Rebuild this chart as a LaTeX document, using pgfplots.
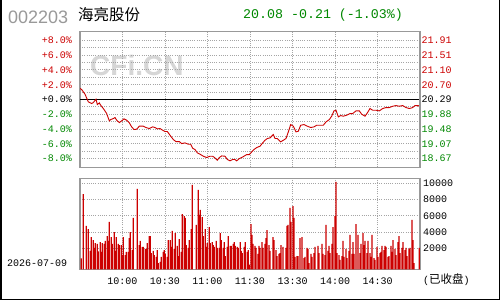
\documentclass[border=0pt]{standalone}
\usepackage{fontspec}
\setmainfont{Liberation Mono}
\newfontfamily\cjk{Noto Sans CJK SC}
\newfontfamily\arial{Liberation Sans}
\usepackage{pgfplots}
\usepackage{pgfplotstable}
\pgfplotsset{compat=1.18}
\definecolor{upred}{RGB}{204,0,0}
\definecolor{dngreen}{RGB}{0,136,0}
\definecolor{framec}{RGB}{153,153,153}
\definecolor{gridc}{RGB}{165,165,165}
\definecolor{wm}{RGB}{214,214,214}
\definecolor{titleg}{RGB}{153,153,153}

\pgfplotstableread{
t pct
0.00 1.50
1.18 1.35
3.53 0.72
5.88 -0.32
8.24 -0.55
9.41 -0.41
11.29 0.04
12.24 -0.68
13.65 -0.46
14.59 -0.77
16.47 -1.22
18.82 -1.90
20.71 -2.89
21.65 -2.71
23.53 -2.58
24.71 -2.44
25.88 -2.80
27.76 -3.12
29.41 -2.89
31.06 -2.62
32.94 -2.80
34.82 -3.16
36.47 -3.70
38.12 -4.06
40.00 -4.02
41.88 -3.61
44.71 -3.61
46.59 -3.79
48.94 -3.93
51.29 -3.70
52.94 -3.79
54.59 -3.97
56.47 -3.93
58.35 -4.15
60.00 -4.33
61.65 -4.33
63.53 -4.83
65.88 -5.42
67.76 -5.69
70.12 -5.69
71.76 -5.96
74.12 -5.87
76.47 -6.05
78.12 -6.05
79.53 -6.59
81.18 -6.77
82.82 -7.22
84.71 -7.40
87.06 -7.67
89.41 -7.85
91.76 -7.67
93.65 -7.67
95.29 -7.90
96.94 -8.21
98.35 -7.85
100.00 -7.63
102.35 -7.67
104.00 -8.12
105.88 -8.30
107.76 -8.12
109.41 -8.12
110.59 -8.30
112.47 -7.99
114.12 -7.85
115.76 -7.67
117.65 -7.45
119.53 -7.45
121.18 -7.09
122.82 -6.77
124.71 -6.50
127.06 -6.32
128.94 -5.87
130.59 -5.51
132.24 -5.28
134.12 -5.19
136.47 -4.74
137.65 -5.28
139.29 -5.28
141.65 -5.73
143.53 -5.51
145.41 -5.28
147.06 -4.38
148.71 -3.39
150.59 -3.61
152.47 -4.38
154.12 -4.29
155.76 -3.48
158.12 -3.39
160.47 -3.61
162.82 -3.79
165.18 -3.70
167.06 -3.48
171.76 -3.48
173.65 -3.03
176.00 -2.71
177.65 -2.26
179.29 -1.54
180.71 -1.45
182.35 -2.35
184.00 -2.17
185.88 -2.26
188.24 -2.12
190.59 -1.90
192.47 -1.90
194.82 -1.54
197.18 -1.54
198.82 -1.99
201.18 -2.26
202.82 -1.81
204.71 -1.22
206.59 -1.45
208.94 -1.45
211.29 -1.54
213.65 -1.22
216.00 -1.09
218.35 -1.09
220.71 -0.91
223.06 -0.82
225.41 -0.91
227.76 -0.82
230.12 -1.09
232.47 -1.22
234.82 -1.09
236.47 -0.82
238.82 -0.82
240.00 -1.03
}\pricetable

\pgfplotstableread{
t v
0.94 770
2.35 8680
4.47 4745
5.88 4375
7.29 1670
8.00 3390
9.41 3020
10.12 2040
10.82 2650
12.24 2530
12.94 1630
14.35 2775
15.06 1545
15.76 2650
17.18 2530
17.88 2900
19.29 3510
20.00 2900
20.71 5240
22.12 3390
22.82 2530
24.24 4000
24.94 1670
25.65 3390
27.06 2530
27.76 2400
29.18 2400
29.88 1175
30.59 3390
32.00 1175
32.71 1545
34.12 1545
34.82 3265
35.53 4000
36.94 1790
37.65 5730
40.47 9300
41.88 2400
42.59 2900
44.00 2160
44.71 2160
46.12 1915
46.82 1915
47.53 2650
48.94 3510
49.65 3510
50.35 1420
51.76 1670
52.47 1175
53.88 930
54.59 1790
55.29 190
56.71 315
57.41 930
58.82 1545
59.53 1790
60.24 1300
61.65 930
62.35 3020
63.76 3020
64.47 2160
65.18 4130
66.59 1915
67.29 3880
68.71 2285
69.41 1050
70.12 3140
71.53 1545
72.24 6220
73.65 5975
74.35 5730
75.06 2400
76.47 2040
77.18 3020
78.59 4375
79.29 9800
82.12 4870
83.53 9180
84.24 6100
84.94 6715
86.35 5850
87.06 3510
88.47 4375
89.18 2160
89.88 2650
91.29 4620
92.00 2650
93.41 2775
94.12 2400
94.82 2160
96.24 2900
96.94 2040
98.35 2040
99.06 3880
99.76 3020
101.18 2040
101.88 2775
102.59 1050
104.00 2160
104.71 3510
106.12 2285
106.82 2285
108.24 2530
108.94 2775
109.65 2285
111.06 2160
111.76 2040
113.18 2775
113.88 1670
114.59 1420
116.00 2160
116.71 2775
118.12 1545
118.82 1790
119.53 0
120.71 4990
121.41 3640
122.12 2530
123.53 2285
124.24 2040
125.65 1300
126.35 2285
127.06 2040
128.47 2775
129.18 2040
130.59 2530
131.29 3265
132.00 4250
133.41 2400
134.12 1670
136.24 3390
136.94 3020
138.35 1790
139.06 1050
140.47 1300
141.18 1420
141.88 2400
143.29 2160
145.41 2040
146.12 4745
146.82 4870
148.24 6960
148.94 5240
150.35 7200
151.06 5730
151.76 930
153.18 1050
153.88 1050
155.29 3265
156.71 3390
158.12 800
158.82 930
160.24 2040
160.94 1915
161.65 190
163.06 1300
163.76 930
165.18 1420
165.88 2160
168.00 2285
168.71 1420
170.82 2530
171.53 1300
172.94 1175
173.65 4870
175.06 1670
175.76 2285
176.47 1420
177.88 2530
178.59 4620
180.00 5975
180.71 10160
181.41 1420
182.82 1175
183.53 560
184.94 1050
185.65 2900
186.35 930
187.76 1915
188.47 800
189.88 1670
190.59 3640
192.00 1300
192.71 2775
193.41 1300
194.82 4990
196.24 3640
197.65 1420
198.35 2530
199.76 3880
200.47 2400
201.18 2900
202.59 1420
203.29 2900
204.71 1420
205.41 930
206.12 3640
207.53 800
208.24 560
209.65 2160
210.35 930
211.76 1420
212.47 1545
213.18 2285
214.59 1790
215.29 2285
216.00 2160
217.41 930
218.12 1050
219.53 2285
220.24 1545
220.94 3020
222.35 1915
223.06 1175
224.47 2775
225.18 3510
225.88 1420
227.29 2040
228.00 2775
229.41 1790
230.12 2040
230.82 1050
232.24 1915
232.94 2040
234.35 5485
235.06 3020
235.76 190
239.53 2040
}\voltable

\begin{document}
\begin{tikzpicture}
\path[use as bounding box] (0pt,0pt) rectangle (500pt,300pt);
\fill[white] (0pt,0pt) rectangle (500pt,300pt);
\draw[black, line width=1.5pt] (0.75pt,300pt) -- (0.75pt,0.75pt) -- (499.25pt,0.75pt) -- (499.25pt,300pt);

% titles
\node[anchor=base west, inner sep=0pt, text=titleg, font=\arial\fontsize{18}{18}\selectfont] at (8pt,276.7pt) {002203};
\node[anchor=base west, inner sep=0pt, text=black, font=\cjk\fontsize{15.5}{16}\selectfont] at (78pt,279.5pt) {海亮股份};
\node[anchor=base west, inner sep=0pt, text=dngreen, font=\fontsize{13.3}{14}\selectfont] at (243pt,281pt) {20.08 -0.21 (-1.03\%)};

% watermark
\node[anchor=base west, inner sep=0pt, text=wm, font=\arial\bfseries\fontsize{28}{28}\selectfont] at (90pt,224pt) {CFi.CN};

% date and status
\node[anchor=base west, inner sep=0pt, font=\fontsize{10}{12}\selectfont] at (7pt,34pt) {2026-07-09};
\node[anchor=base west, inner sep=0pt, font=\fontsize{10}{12}\selectfont] at (423pt,17pt) {(\kern0pt{\cjk\fontsize{11.5}{12}\selectfont 已收盘})};

% ---------- price panel ----------
\begin{axis}[
  at={(80pt,132.7pt)}, anchor=south west,
  width=340pt, height=135.6pt, scale only axis,
  xmin=0, xmax=240, ymin=-9.17, ymax=9.17,
  axis line style={draw=framec, line width=1.2pt},
  xtick={30,60,90,120,150,180,210}, xticklabels={},
  ytick={-8,-6,-4,-2,0,2,4,6,8},
  minor ytick={-7,-5,-3,-1,1,3,5,7},
  grid=both,
  major grid style={draw=gridc, dash pattern=on 1pt off 1.2pt, line width=0.9pt},
  minor grid style={draw=gridc, dash pattern=on 1pt off 1.2pt, line width=0.9pt},
  tick style={draw=none},
  yticklabels={{\color{dngreen}-8.0\%},{\color{dngreen}-6.0\%},{\color{dngreen}-4.0\%},{\color{dngreen}-2.0\%},{\color{black}+0.0\%},{\color{upred}+2.0\%},{\color{upred}+4.0\%},{\color{upred}+6.0\%},{\color{upred}+8.0\%}},
  yticklabel style={anchor=east, inner sep=0pt, xshift=-8pt, font=\fontsize{10}{12}\selectfont},
]
\addplot[black, line width=1pt] coordinates {(0,0) (240,0)};
\addplot[upred, line width=0.9pt] table[x=t, y=pct] {\pricetable};
\end{axis}

\begin{axis}[
  at={(80pt,132.7pt)}, anchor=south west,
  width=340pt, height=135.6pt, scale only axis,
  xmin=0, xmax=240, ymin=-9.17, ymax=9.17,
  axis y line*=right, axis x line=none,
  axis line style={draw=framec, line width=1.2pt},
  tick style={draw=none},
  ytick={-8,-6,-4,-2,0,2,4,6,8},
  yticklabels={{\color{dngreen}18.67},{\color{dngreen}19.07},{\color{dngreen}19.48},{\color{dngreen}19.88},{\color{black}20.29},{\color{upred}20.70},{\color{upred}21.10},{\color{upred}21.51},{\color{upred}21.91}},
  yticklabel style={anchor=west, inner sep=0pt, xshift=1.5pt, font=\fontsize{10}{12}\selectfont},
]
\end{axis}

% ---------- volume panel ----------
\begin{axis}[
  at={(80pt,30.7pt)}, anchor=south west,
  width=340pt, height=91pt, scale only axis,
  xmin=0, xmax=240, ymin=0, ymax=11200,
  scaled y ticks=false,
  axis line style={draw=framec, line width=1.2pt},
  xtick={30,60,90,120,150,180,210},
  xticklabels={10:00,10:30,11:00,11:30,13:30,14:00,14:30},
  xticklabel style={anchor=north, inner sep=0pt, yshift=-4pt, font=\fontsize{10}{12}\selectfont},
  ytick={2585,4585,6585,8585,10585},
  yticklabels={2000,4000,6000,8000,10000},
  yticklabel pos=right,
  yticklabel style={anchor=west, inner sep=0pt, xshift=3pt, font=\fontsize{10}{12}\selectfont},
  grid=major,
  major grid style={draw=gridc, dash pattern=on 1pt off 1.2pt, line width=0.9pt},
  tick style={draw=none},
  ybar, bar width=1.3pt,
]
\addplot[fill=upred, draw=none] table[x=t, y expr=\thisrow{v}+585] {\voltable};
\end{axis}
\end{tikzpicture}
\end{document}
